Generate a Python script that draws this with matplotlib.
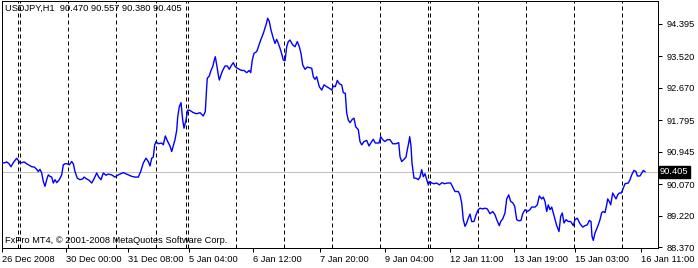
import matplotlib
matplotlib.use("Agg")
import matplotlib.pyplot as plt

# USDJPY H1 close prices, bar position (chart column) vs price
bar_pos = [2.7, 5, 6.7, 9, 11, 13.3, 15, 16.7, 18.3, 20, 22, 24, 26.7, 29.3, 31.7, 34.3, 36.7, 38.3,
           40, 41.7, 43.3, 45, 46.7, 48.3, 50, 51.7, 53.3, 55, 56.7, 59.3, 61.7, 63.3, 65, 67.3,
           69.3, 71.7, 73.3, 75, 77.3, 80, 82.7, 84, 86.7, 89.3, 91.7, 94, 96.7, 98.7, 101, 103.3,
           106, 108.3, 111.7, 115, 118.3, 123.3, 128.3, 131.7, 135, 138.3, 140.7, 143.3, 146,
           148.3, 150, 151.7, 153.3, 154.7, 156, 158.3, 161.7, 163.3, 165.3, 167.7, 170, 171.7,
           173.3, 175, 176.7, 177.7, 179.3, 181, 182.7, 184, 186, 187.7, 190, 193.3, 196.7, 200,
           203.3, 205.3, 206.7, 207.3, 209.3, 211, 212.7, 214.3, 215.3, 216.7, 218.3, 219.3, 221,
           222.7, 225, 227.3, 229.3, 231, 233.3, 235.3, 237.3, 239.3, 241.7, 244, 246.7, 249.3,
           250.7, 252.3, 254, 256.7, 258.3, 260.7, 263.3, 266, 267.7, 269.3, 271, 273.3, 275,
           276.7, 278.3, 280, 281.7, 283.3, 285, 286.7, 288.3, 290, 292.7, 295, 297.3, 299.3, 301,
           302.7, 305, 307.3, 311.7, 313.3, 315, 316.7, 319.3, 321.7, 324, 326.7, 329.3, 331.7,
           333.3, 335.3, 337.3, 339.3, 341.7, 343.3, 345.3, 346.7, 348.3, 350, 352.3, 354, 355.7,
           358.3, 360, 361.7, 364, 366.7, 369, 371.7, 373.3, 375.3, 379, 380.7, 382.7, 385, 387.3,
           390, 392.7, 396, 398.7, 400, 401.7, 404, 406, 407.3, 408.7, 409.7, 411, 412, 414, 416,
           418.3, 420, 421.7, 423.3, 425, 426.7, 428.3, 430, 431.7, 434, 436.7, 439.3, 442, 444.7,
           447.3, 450.7, 453.3, 455, 458.3, 460, 461.7, 463.3, 465, 466.7, 468.3, 470, 471.7, 474,
           476, 478.3, 480, 482.7, 485, 487.3, 490, 492.7, 495, 496.7, 499.3, 500.7, 502.7, 505,
           506.7, 508.7, 510.7, 512.7, 514.7, 516.7, 518.7, 521, 522.7, 525, 527.3, 530, 531.7,
           535, 537.3, 539.3, 541.7, 543.3, 545, 546.7, 548.3, 550, 551.7, 553.3, 555, 556.7, 559,
           560.7, 562.3, 564, 566, 568.3, 570.7, 573.3, 575, 577.3, 580, 582.7, 585, 587.3, 589.3,
           591, 592, 593.3, 595, 596.7, 598.3, 600, 601.7, 603.3, 605, 606.7, 607.7, 609.3, 610.7,
           612.7, 614.3, 616, 617.7, 619.3, 621.3, 623.3, 625, 628.3, 630, 631.7, 634, 636, 637.3,
           640, 641.7, 643.3, 645]
price = [90.64, 90.65, 90.67, 90.62, 90.54, 90.65, 90.71, 90.77, 90.71, 90.64, 90.65, 90.67, 90.62,
         90.58, 90.54, 90.53, 90.47, 90.41, 90.47, 90.37, 90.14, 90.01, 90.19, 90.32, 90.28, 90.26,
         90.10, 90.19, 90.11, 90.19, 90.32, 90.59, 90.62, 90.62, 90.59, 90.68, 90.62, 90.41, 90.23,
         90.19, 90.21, 90.26, 90.21, 90.17, 90.10, 90.21, 90.37, 90.26, 90.19, 90.37, 90.31, 90.34,
         90.32, 90.26, 90.32, 90.38, 90.32, 90.28, 90.26, 90.26, 90.41, 90.64, 90.77, 90.68, 90.56,
         90.77, 90.80, 91.13, 91.22, 91.16, 91.18, 91.13, 91.37, 91.22, 91.10, 90.95, 91.10, 91.27,
         91.52, 91.88, 92.16, 92.27, 91.80, 91.58, 91.80, 92.07, 92.06, 92.00, 91.97, 92.00, 91.91,
         92.03, 92.70, 92.93, 92.99, 93.14, 93.24, 93.42, 93.51, 93.29, 93.02, 92.88, 93.02, 93.14,
         93.26, 93.26, 93.17, 93.26, 93.35, 93.24, 93.20, 93.17, 93.14, 93.14, 93.08, 93.14, 93.08,
         93.42, 93.60, 93.65, 93.77, 93.96, 94.14, 94.37, 94.55, 94.46, 94.23, 94.01, 93.87, 93.98,
         93.87, 93.74, 93.59, 93.42, 93.40, 93.78, 93.92, 93.96, 93.83, 93.78, 93.92, 93.78, 93.60,
         93.29, 93.17, 93.23, 93.20, 92.97, 92.90, 92.97, 92.70, 92.61, 92.75, 92.70, 92.66, 92.61,
         92.72, 92.70, 92.87, 92.78, 92.75, 92.54, 92.52, 91.99, 91.80, 91.73, 91.82, 91.85, 91.62,
         91.54, 91.22, 91.13, 91.22, 91.25, 91.10, 91.22, 91.28, 91.18, 91.18, 91.35, 91.27, 91.22,
         91.27, 91.27, 91.16, 91.16, 91.19, 90.81, 90.68, 90.74, 90.80, 91.00, 91.18, 91.35, 91.10,
         90.64, 90.23, 90.23, 90.19, 90.26, 90.46, 90.27, 90.35, 90.19, 90.05, 90.14, 90.10, 90.08,
         90.10, 90.05, 90.11, 90.08, 90.10, 90.10, 89.96, 89.87, 89.87, 89.78, 89.56, 89.11, 88.93,
         89.02, 89.15, 89.26, 89.06, 89.06, 89.24, 89.38, 89.42, 89.40, 89.42, 89.40, 89.27, 89.33,
         89.24, 89.11, 88.95, 89.06, 89.13, 89.29, 89.67, 89.78, 89.60, 89.57, 89.47, 89.11, 89.08,
         89.09, 89.27, 89.38, 89.33, 89.38, 89.45, 89.45, 89.51, 89.75, 89.67, 89.72, 89.60, 89.33,
         89.51, 89.38, 89.45, 89.29, 89.11, 88.95, 88.79, 89.20, 89.29, 89.02, 89.11, 89.06, 89.06,
         88.95, 89.11, 89.15, 89.00, 88.91, 88.95, 88.97, 89.09, 89.06, 88.66, 88.55, 88.75, 88.86,
         88.97, 89.11, 89.30, 89.33, 89.30, 89.51, 89.67, 89.60, 89.51, 89.83, 89.75, 89.67, 89.78,
         89.83, 89.83, 89.96, 90.08, 90.10, 90.19, 90.32, 90.44, 90.41, 90.29, 90.29, 90.37, 90.44,
         90.405]

last_price = 90.405
header = "USDJPY,H1  90.470 90.557 90.380 90.405"
copyright_txt = "FxPro MT4, \u00a9 2001-2008 MetaQuotes Software Corp."

price_ticks = [94.395, 93.520, 92.670, 91.795, 90.945, 90.070, 89.220, 88.370]
time_pos = [2, 66, 128, 189, 253, 320, 385, 450, 514, 575, 641]
time_labels = ["26 Dec 2008", "30 Dec 00:00", "31 Dec 08:00", "5 Jan 04:00", "6 Jan 12:00",
               "7 Jan 20:00", "9 Jan 04:00", "12 Jan 11:00", "13 Jan 19:00", "15 Jan 03:00",
               "16 Jan 11:00"]
separators = [17, 19, 67, 115, 155, 185, 187, 235, 283, 331, 379, 427, 429, 477, 525, 573, 621]

plt.rcParams['font.family'] = ['Liberation Sans', 'DejaVu Sans']
fs = 6.7
px = 0.72  # one pixel in points at dpi 100

fig = plt.figure(figsize=(6.98, 2.68), dpi=100)
fig.patch.set_facecolor('white')
ax = fig.add_axes([2 / 698, 20 / 268, 656 / 698, 247 / 268])
ax.set_xlim(2, 658)
ax.set_ylim(88.345, 95.015)

for sx in separators:
    ax.axvline(sx + 0.5, color='black', lw=px, dashes=(4, 3), zorder=1)
ax.axhline(last_price, color='#c0c0c0', lw=px, zorder=2)
ax.plot(bar_pos, price, color='#0000ff', lw=1.0, zorder=3)

for s in ax.spines.values():
    s.set_linewidth(px)
    s.set_color('black')

ax.yaxis.tick_right()
ax.set_yticks(price_ticks)
ax.set_yticklabels([f"{p:.3f}" for p in price_ticks], fontsize=fs)
ax.set_xticks(time_pos)
ax.set_xticklabels(time_labels, fontsize=fs, ha='left')
ax.tick_params(axis='both', direction='out', length=3, width=px, color='black', pad=2)
ax.tick_params(axis='y', pad=3)

ax.text(0.005, 0.99, header, transform=ax.transAxes, fontsize=fs,
        ha='left', va='top', color='black', zorder=6)
ax.text(0.005, 0.012, copyright_txt, transform=ax.transAxes, fontsize=fs,
        ha='left', va='bottom', color='black', zorder=6)
ax.text(660, last_price, "90.405", fontsize=fs, color='white', ha='left', va='center',
        clip_on=False, zorder=5,
        bbox=dict(boxstyle='square,pad=0.15', fc='black', ec='black'))

fig.savefig("out.png", dpi=100)
